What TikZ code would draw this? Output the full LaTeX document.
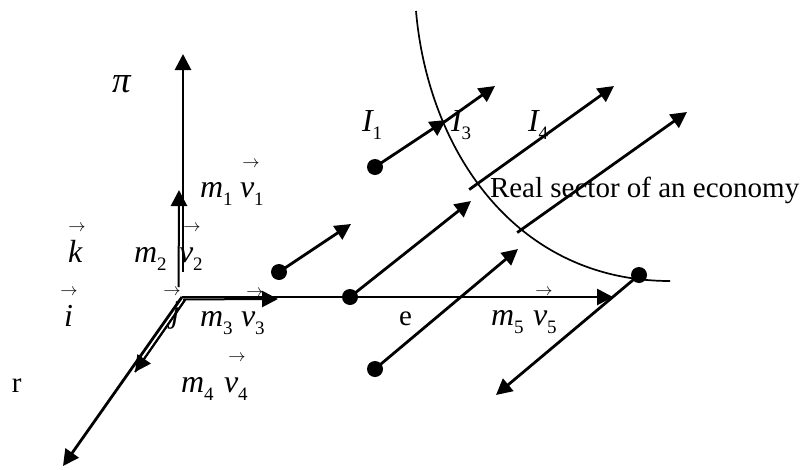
\documentclass[tikz,border=0pt]{standalone}
\usepackage{fontspec}
\setmainfont{Liberation Serif}
\usetikzlibrary{arrows.meta}
\newcommand{\bigf}{\fontsize{29}{32}\selectfont}
\newcommand{\mathf}{\fontsize{32}{34}\selectfont}
\newcommand{\subf}{\fontsize{19}{20}\selectfont}
\newcommand{\arf}{\fontsize{18}{20}\selectfont}
\newcommand{\ovrarrow}{$\rightarrow$}
\newcommand{\msub}[2]{{\mathf\itshape #1}\raisebox{-8pt}{\subf #2}}
\tikzset{
  x=1pt,y=-1pt,
  lab/.style={inner sep=0pt,outer sep=0pt,anchor=base west,font=\mathf},
  ovr/.style={inner sep=0pt,outer sep=0pt,anchor=center,font=\arf},
  dotn/.style={circle,fill=black,inner sep=0pt,minimum size=16pt},
  arw/.style={line width=2.8pt,-{Triangle[length=16pt,width=16pt]},shorten <=-1pt},
  axw/.style={line width=2.8pt,-{Triangle[length=16pt,width=16pt]}},
  dbl/.style={line width=2pt},
  crv/.style={line width=1.7pt},
}
\begin{document}
\begin{tikzpicture}
\useasboundingbox (0,0) rectangle (801,469);
% anchors
\coordinate (O) at (182,297);
\coordinate (piS) at (183,272);
\coordinate (piT) at (183,54);
\coordinate (kS) at (178.5,287);
\coordinate (kH) at (179,204);
\coordinate (kT) at (179,190);
\coordinate (jS) at (183,299.5);
\coordinate (jH) at (264,299);
\coordinate (jT) at (278,299);
\coordinate (eT) at (613,297);
\coordinate (rT) at (63,466);
\coordinate (iS) at (185,300);
\coordinate (iT) at (135,372);
\coordinate (cS) at (416,11);
\coordinate (cE) at (670,281);
\node[dotn] (d1) at (375,167) {};
\node[dotn] (d2) at (279,272) {};
\node[dotn] (d3) at (350,297) {};
\node[dotn] (d4) at (375,369) {};
\node[dotn] (d5) at (639,275) {};
\coordinate (t1a) at (446,120);
\coordinate (t1b) at (495,86);
\coordinate (s1b) at (440,125);
\coordinate (t2) at (351,224);
\coordinate (t3) at (471,201);
\coordinate (s4) at (470,189);
\coordinate (t4) at (614,86);
\coordinate (s5) at (518,232);
\coordinate (t5) at (687,112);
\coordinate (t6) at (518,249);
\coordinate (t7) at (496,395);
% curve
\draw[crv] (cS) .. controls (428,150) and (515,281) .. (cE);
% axes
\draw[axw] (piS) -- (piT);
\draw[dbl] (kS) -- (kH);
\draw[axw] (kH) -- (kT);
\draw[axw] (O) -- (eT);
\draw[dbl] (jS) -- (jH);
\draw[axw] (jH) -- (jT);
\draw[axw] (O) -- (rT);
\draw[dbl] (iS) -- (iT);
\draw[axw,line width=2pt] (iS) -- (iT);
% arrows
\draw[arw] (d1) -- (t1a);
\draw[arw] (s1b) -- (t1b);
\draw[arw] (d2) -- (t2);
\draw[arw] (d3) -- (t3);
\draw[arw] (s4) -- (t4);
\draw[arw] (s5) -- (t5);
\draw[arw] (d4) -- (t6);
\draw[arw] (d5) -- (t7);
% labels
\node[lab,font=\fontsize{37}{38}\selectfont] (pi) at (112,92) {\itshape π};
\node[lab] (m1) at (200,197) {\msub{m}{1}};
\node[lab] (v1) at (240,197) {\msub{v}{1}};
\node[ovr] (a1) at (251,164) {\ovrarrow};
\node[lab] (k) at (68,262) {\itshape k};
\node[ovr] (ak) at (77,228) {\ovrarrow};
\node[lab] (m2) at (134,262) {\msub{m}{2}};
\node[lab] (v2) at (179,262) {\msub{v}{2}};
\node[ovr] (a2) at (192,228) {\ovrarrow};
\node[lab] (i) at (64,326) {\itshape i};
\node[ovr] (ai) at (69,292) {\ovrarrow};
\node[lab] (j) at (171,322) {\itshape j};
\node[ovr] (aj) at (172,292) {\ovrarrow};
\node[lab] (m3) at (200,326) {\msub{m}{3}};
\node[lab] (v3) at (241,326) {\msub{v}{3}};
\node[ovr] (a3) at (255,293) {\ovrarrow};
\node[lab,font=\bigf] (r) at (12,392) {r};
\node[lab] (m4) at (181,392) {\msub{m}{4}};
\node[lab] (v4) at (224,392) {\msub{v}{4}};
\node[ovr] (a4) at (237,358) {\ovrarrow};
\node[lab,font=\bigf] (e) at (399,325) {e};
\node[lab] (m5) at (491,325) {\msub{m}{5}};
\node[lab] (v5) at (533,325) {\msub{v}{5}};
\node[ovr] (a5) at (544,292) {\ovrarrow};
\node[lab] (I1) at (362,131) {\msub{I}{1}};
\node[lab] (I3) at (451,131) {\msub{I}{3}};
\node[lab] (I4) at (528,131) {\msub{I}{4}};
\node[lab,font=\bigf] (real) at (490,197) {Real sector of an economy};
\end{tikzpicture}
\end{document}
